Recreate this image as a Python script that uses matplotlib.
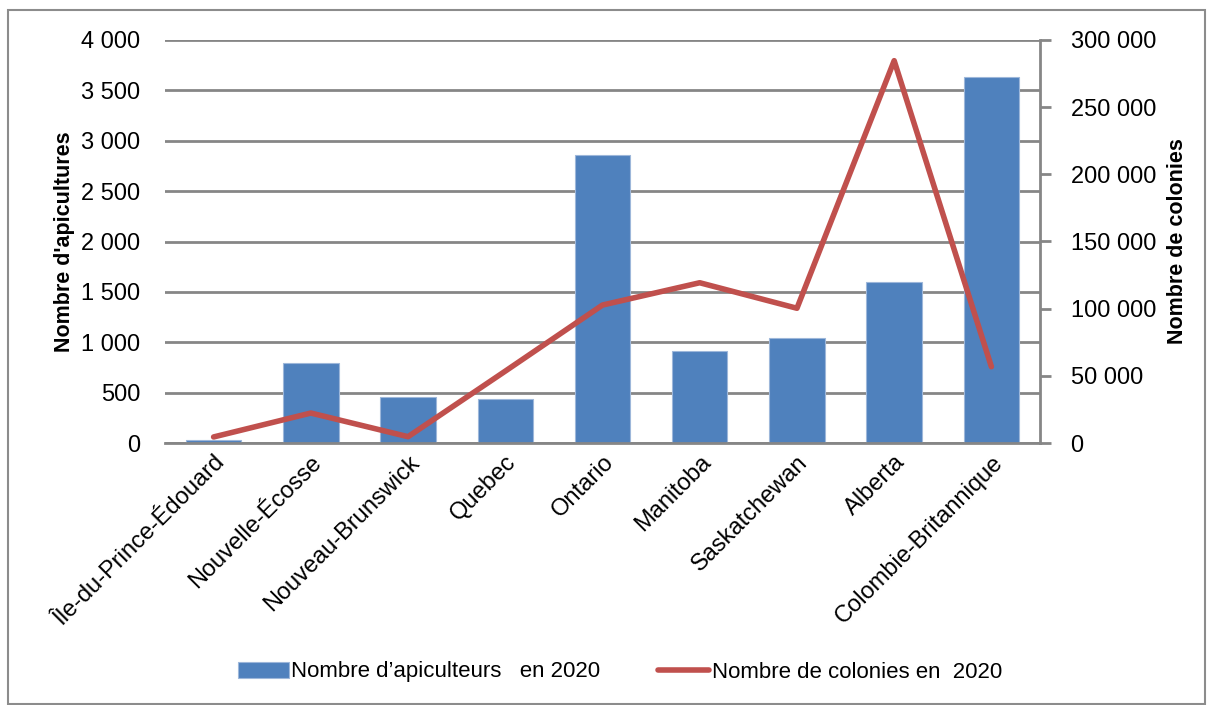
import matplotlib.pyplot as plt
from matplotlib.patches import Rectangle
from matplotlib.ticker import FuncFormatter, MultipleLocator

provinces = ["Île-du-Prince-Édouard", "Nouvelle-Écosse", "Nouveau-Brunswick", "Quebec",
             "Ontario", "Manitoba", "Saskatchewan", "Alberta", "Colombie-Britannique"]
apiculteurs = [25, 795, 452, 437, 2855, 913, 1045, 1600, 3636]
colonies = [4500, 22300, 4700, 53500, 102700, 119300, 100300, 284600, 56800]

plt.rcParams['font.family'] = ['Liberation Sans', 'DejaVu Sans']

blue = '#4F81BD'
red = '#C0504D'
grid = '#868686'


def spaced(v, pos):
    return format(int(round(v)), ',').replace(',', ' ')


fig = plt.figure(figsize=(12.07, 7.05), dpi=100)
fig.patches.append(Rectangle((8 / 1207, 1 / 705), 1197 / 1207, 694 / 705,
                             transform=fig.transFigure, fill=False,
                             edgecolor='#8c8c8c', linewidth=1.5))

ax = fig.add_axes([165 / 1207, 1 - 443 / 705, 875 / 1207, 403 / 705])
x = range(len(provinces))
ax.bar(x, apiculteurs, width=0.57, color=blue, edgecolor='#9db7da', linewidth=0.8,
       label="Nombre d’apiculteurs   en 2020", zorder=2)
ax.set_xlim(-0.5, len(provinces) - 0.5)
ax.set_ylim(0, 4000)
ax.yaxis.set_major_locator(MultipleLocator(500))
ax.yaxis.set_major_formatter(FuncFormatter(spaced))
ax.grid(axis='y', color=grid, linewidth=2, zorder=0)
ax.set_axisbelow(True)
for s in ['left', 'top', 'right']:
    ax.spines[s].set_visible(False)
ax.spines['bottom'].set_color(grid)
ax.spines['bottom'].set_linewidth(2)
ax.tick_params(axis='y', length=0, labelsize=17, pad=18)
ax.tick_params(axis='x', length=0, pad=6)
ax.set_xticks(list(x))
ax.set_xticklabels(provinces, rotation=45, ha='right', rotation_mode='anchor', fontsize=17)
ax.set_ylabel("Nombre d'apicultures", fontsize=15.5, fontweight='bold', labelpad=4)

ax2 = ax.twinx()
ax2.plot(x, colonies, color=red, linewidth=4, solid_capstyle='round',
         label="Nombre de colonies en  2020", zorder=3)
ax2.set_ylim(0, 300000)
ax2.yaxis.set_major_locator(MultipleLocator(50000))
ax2.yaxis.set_major_formatter(FuncFormatter(spaced))
for s in ['left', 'top', 'bottom']:
    ax2.spines[s].set_visible(False)
ax2.spines['right'].set_color(grid)
ax2.spines['right'].set_linewidth(2)
ax2.tick_params(axis='y', direction='out', length=8, width=2, color=grid,
                labelsize=17, pad=14)
ax2.set_ylabel("Nombre de colonies", fontsize=15.5, fontweight='bold', labelpad=8)

h1, l1 = ax.get_legend_handles_labels()
h2, l2 = ax2.get_legend_handles_labels()
fig.legend(h1 + h2, l1 + l2, loc='center', bbox_to_anchor=(620 / 1207, 1 - 672 / 705),
           ncol=2, frameon=False, fontsize=16, handlelength=2.3, handletextpad=0.1,
           columnspacing=2.6)

fig.savefig('out.png', dpi=100)
